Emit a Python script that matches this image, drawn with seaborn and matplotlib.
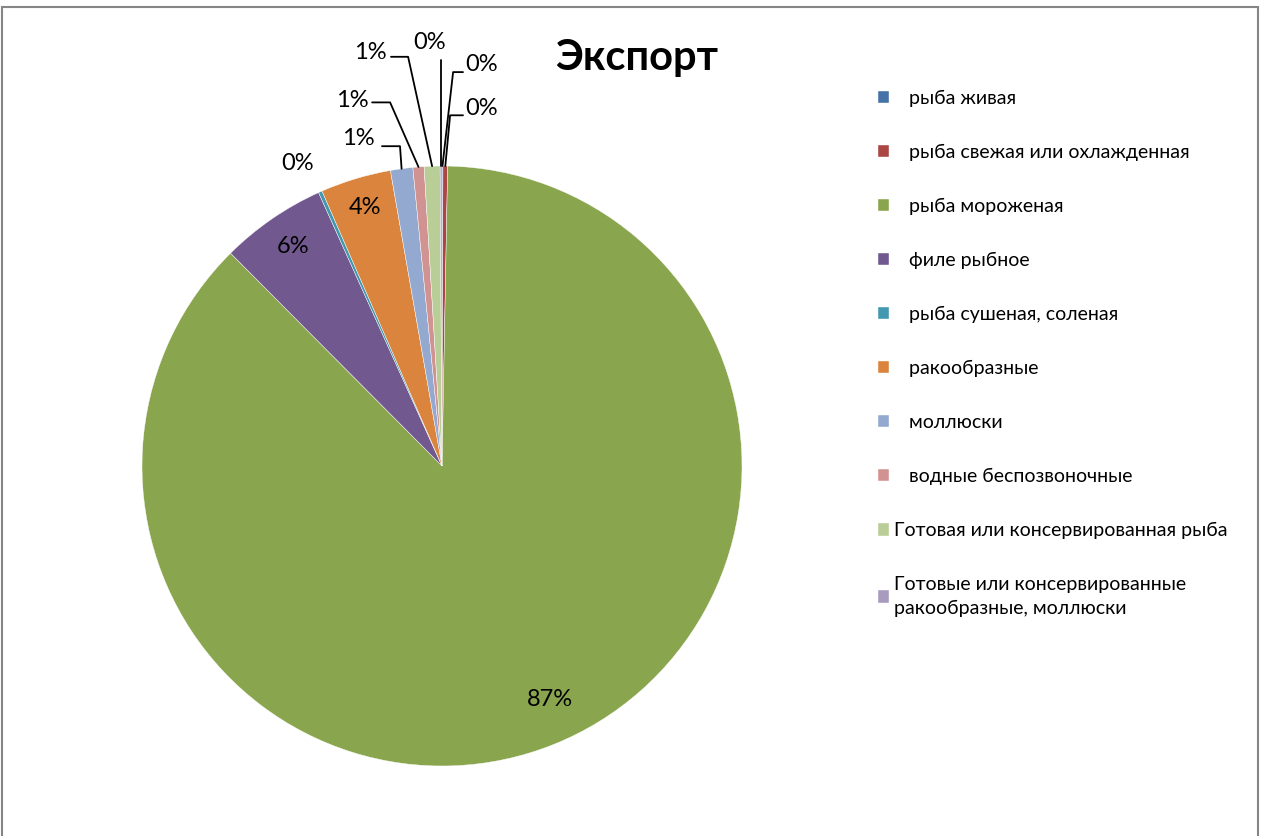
import numpy as np
import matplotlib
matplotlib.use("Agg")
import matplotlib.pyplot as plt
from matplotlib.patches import Rectangle
import seaborn as sns

# данные (доля экспорта, %)
categories = ["   рыба живая", "   рыба свежая или охлажденная", "   рыба мороженая",
              "   филе рыбное", "   рыба сушеная, соленая", "   ракообразные",
              "   моллюски", "   водные беспозвоночные",
              "Готовая или консервированная рыба",
              "Готовые или консервированные\nракообразные, моллюски"]
values = [0.05, 0.25, 87.25, 5.7, 0.2, 3.8, 1.2, 0.6, 0.85, 0.1]
colors = ["#4572a7", "#aa4643", "#89a54e", "#71588f", "#4198af", "#db843d",
          "#93a9cf", "#d19392", "#b9cd96", "#a99bbd"]

sns.set_theme(style="white")
plt.rcParams["font.family"] = ["Lato", "DejaVu Sans"]
plt.rcParams["text.color"] = "black"

W, H = 1262, 836
fig = plt.figure(figsize=(W / 100, H / 100), dpi=100)
cx, cy, r = 442, 466, 300
ax = fig.add_axes([(cx - r) / W, (H - cy - r) / H, 2 * r / W, 2 * r / H])

wedges, _ = ax.pie(values, colors=sns.color_palette(colors), startangle=90,
                   counterclock=False, radius=1,
                   wedgeprops=dict(edgecolor="white", linewidth=0.3))
ax.set_xlim(-1, 1)
ax.set_ylim(-1, 1)
ax.set_aspect("equal")
ax.axis("off")

total = sum(values)
labels = ["%.0f%%" % (v / total * 100) for v in values]

# подписи: (x, y) в радиусах, начало выноски по x, длина, сдвиг выноски по y
label_pos = {
    0: (0.133, 1.337, -0.063, -0.033, -0.024),
    1: (0.133, 1.193, -0.063, -0.043, -0.024),
    2: (0.36, -0.78, None, None, None),
    3: (-0.497, 0.733, None, None, None),
    4: (-0.48, 1.01, None, None, None),
    5: (-0.257, 0.863, None, None, None),
    6: (-0.28, 1.093, 0.08, 0.06, -0.027),
    7: (-0.30, 1.217, 0.067, 0.06, -0.005),
    8: (-0.24, 1.377, 0.07, 0.057, -0.013),
    9: (-0.04, 1.413, 0.0, 0.0, -0.06),
}

for i, w in enumerate(wedges):
    tx, ty, off, lead, dy = label_pos[i]
    ax.text(tx, ty, labels[i], ha="center", va="center", fontsize=17,
            color="black", clip_on=False)
    if off is None:
        continue
    ang = np.deg2rad((w.theta1 + w.theta2) / 2)
    px, py = np.cos(ang), np.sin(ang)
    if lead == 0:
        ax.plot([px, px], [ty + dy, py], color="black", lw=1.3, clip_on=False)
        continue
    sx = tx + off
    ly = ty + dy
    ax.plot([sx, sx + lead, px], [ly, ly, py], color="black", lw=1.3,
            clip_on=False)

fig.text(637 / W, 1 - 58 / H, "Экспорт", ha="center", va="center",
         fontsize=30, fontweight="bold", color="black")

leg = fig.legend(wedges, categories, loc="upper left",
                 bbox_to_anchor=(870 / W, 1 - 82 / H), frameon=False,
                 fontsize=14, handlelength=0.6, handleheight=0.6,
                 handletextpad=0.25, labelspacing=1.9, borderaxespad=0)
for t in leg.get_texts():
    t.set_linespacing(1.45)
    t.set_color("black")

fig.patches.append(Rectangle((2 / W, -0.05), 1256 / W, (H - 7) / H + 0.05,
                             transform=fig.transFigure, fill=False,
                             edgecolor="#868686", linewidth=1.5))

fig.savefig("out.png", dpi=100, facecolor="white")
